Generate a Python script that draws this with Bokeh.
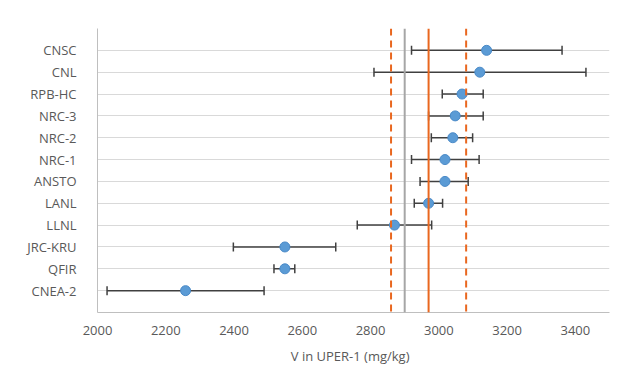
from bokeh.plotting import figure
from bokeh.models import Range1d, FixedTicker, ColumnDataSource, Whisker, TeeHead, Span
from bokeh.embed import file_html
from bokeh.resources import INLINE

labs = ["CNSC", "CNL", "RPB-HC", "NRC-3", "NRC-2", "NRC-1", "ANSTO", "LANL", "LLNL", "JRC-KRU", "QFIR", "CNEA-2"]
vals = [3140, 3120, 3068, 3048, 3041, 3018, 3018, 2970, 2870, 2549, 2549, 2258]
lows = [2920, 2810, 3010, 2970, 2978, 2920, 2945, 2928, 2761, 2398, 2517, 2028]
highs = [3361, 3431, 3130, 3130, 3099, 3118, 3086, 3011, 2979, 2698, 2578, 2488]
ref_gray = 2900
ref_mean = 2970
ref_lo = 2860
ref_hi = 3080
xticks = [2000, 2200, 2400, 2600, 2800, 3000, 3200, 3400]

n = len(labs)
ypos = [n - i for i in range(n)]

src = ColumnDataSource(dict(y=ypos, v=vals, lo=lows, hi=highs, lab=labs))

p = figure(width=630, height=378, output_backend="svg", toolbar_location=None,
           x_range=Range1d(2000, 3500), y_range=Range1d(0, 13),
           min_border_left=97, min_border_right=21, min_border_top=28, min_border_bottom=66)
p.outline_line_color = None
p.background_fill_color = "white"

# axes
p.xaxis.ticker = FixedTicker(ticks=xticks)
p.xaxis.axis_label = "V  in UPER-1  (mg/kg)"
p.yaxis.ticker = FixedTicker(ticks=ypos)
p.yaxis.major_label_overrides = {y: l for y, l in zip(ypos, labs)}
for ax in (p.xaxis[0], p.yaxis[0]):
    ax.axis_line_color = "#bfbfbf"
    ax.major_tick_line_color = None
    ax.minor_tick_line_color = None
    ax.major_label_text_font = "Open Sans"
    ax.major_label_text_font_size = "13px"
    ax.major_label_text_color = "#595959"
p.xaxis.major_label_standoff = 7
p.yaxis.major_label_standoff = 15
p.yaxis.major_label_text_align = "center"
p.xaxis.axis_label_text_font = "Open Sans"
p.xaxis.axis_label_text_font_size = "13px"
p.xaxis.axis_label_text_font_style = "normal"
p.xaxis.axis_label_text_color = "#595959"
p.xaxis.axis_label_standoff = 9

p.xgrid.grid_line_color = None
p.ygrid.ticker = FixedTicker(ticks=list(range(1, 14)))
p.ygrid.grid_line_color = "#d9d9d9"
p.ygrid.grid_line_width = 1

# reference lines
p.add_layout(Span(location=ref_gray, dimension="height", line_color="#a6a6a6", line_width=2))
p.add_layout(Span(location=ref_mean, dimension="height", line_color="#e9671f", line_width=2))
p.add_layout(Span(location=ref_lo, dimension="height", line_color="#e9671f", line_width=2, line_dash="7 5"))
p.add_layout(Span(location=ref_hi, dimension="height", line_color="#e9671f", line_width=2, line_dash="7 5"))

# error bars
w = Whisker(source=src, base="y", lower="lo", upper="hi", dimension="width",
            line_color="#404040", line_width=1.5,
            lower_head=TeeHead(size=9, line_color="#404040", line_width=1.5),
            upper_head=TeeHead(size=9, line_color="#404040", line_width=1.5))
p.add_layout(w)

p.scatter(x="v", y="y", source=src, size=10, fill_color="#5b9bd5", line_color="#4a8ac8", line_width=1)

open("out.html", "w").write(file_html(p, INLINE))
